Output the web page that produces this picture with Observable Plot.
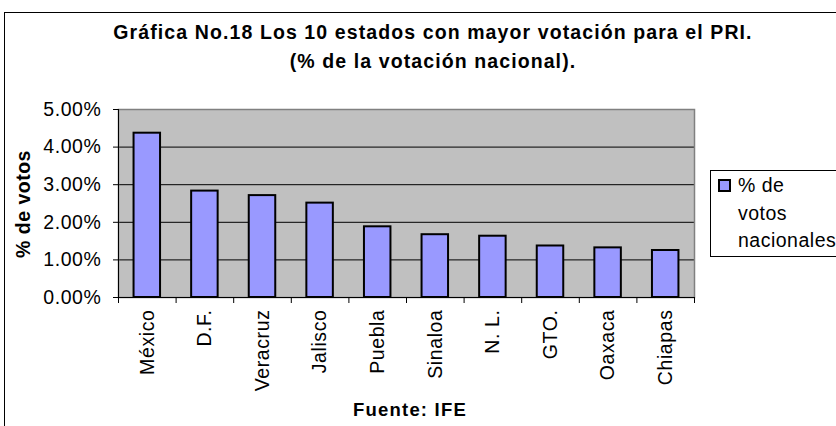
<!DOCTYPE html>
<html>
<head>
<meta charset="utf-8">
<script src="https://cdn.jsdelivr.net/npm/d3@7"></script>
<script src="https://cdn.jsdelivr.net/npm/@observablehq/plot@0.6"></script>
<style>
  body { margin: 0; background: #fff; }
  #wrap { position: relative; width: 836px; height: 426px; overflow: hidden;
          font-family: "Liberation Sans", Arial, sans-serif; color: #000; background: #fff; }
  #wrap svg text { letter-spacing: 0.6px; }
  #border { position: absolute; left: 4px; top: 12px; width: 900px; height: 500px;
            border: 1px solid #000; box-sizing: border-box; }
  .t { position: absolute; white-space: nowrap; line-height: 1; }
  #title1, #title2 { left: 0; width: 866px; text-align: center; font-weight: bold;
                     font-size: 19.5px; letter-spacing: 1.1px; }
  #title1 { top: 23px; }
  #title2 { top: 52px; }
  #caption { left: 310px; width: 200px; text-align: center; top: 401px; font-weight: bold;
             font-size: 18.5px; letter-spacing: 1.2px; }
  #ylabel { left: 24px; top: 204px; font-weight: bold; font-size: 19.5px; letter-spacing: 0.5px;
            transform: translate(-50%, -50%) rotate(-90deg); }
  #legend { position: absolute; left: 710px; top: 170px; width: 140px; height: 87px;
            border: 1px solid #000; box-sizing: border-box; background: #fff; }
  #legend .sw { position: absolute; left: 7px; top: 8px; width: 13px; height: 13px;
                background: #9999FF; border: 2px solid #000; box-sizing: border-box; }
  #legend .lt { position: absolute; left: 27px; font-size: 19.5px; line-height: 1; letter-spacing: 0.5px; white-space: nowrap; }
</style>
</head>
<body>
<div id="wrap">
  <div id="chart"></div>
  <div id="border"></div>
  <div class="t" id="title1"></div>
  <div class="t" id="title2"></div>
  <div class="t" id="ylabel"></div>
  <div class="t" id="caption"></div>
  <div id="legend"><div class="sw"></div></div>
</div>
<script>
const titleLines = ["Gráfica No.18 Los 10 estados con mayor votación para el PRI.", "(% de la votación nacional)."];
const yLabel = "% de votos";
const caption = "Fuente: IFE";
const seriesLines = ["% de", "votos", "nacionales"];
const states = ["México", "D.F.", "Veracruz", "Jalisco", "Puebla", "Sinaloa", "N. L.", "GTO.", "Oaxaca", "Chiapas"];
const votes = [4.37, 2.83, 2.71, 2.51, 1.88, 1.67, 1.63, 1.37, 1.32, 1.25];
const yTicks = [0, 1, 2, 3, 4, 5];

const data = states.map((s, i) => ({ state: s, i, v: votes[i] }));
const half = 0.23;

const chart = Plot.plot({
  width: 836, height: 426,
  marginLeft: 118, marginRight: 142, marginTop: 109, marginBottom: 129,
  style: { fontFamily: '"Liberation Sans", Arial, sans-serif', fontSize: "19.5px", color: "#000", background: "transparent", overflow: "visible" },
  x: { type: "linear", domain: [0, states.length] },
  y: { domain: [0, 5] },
  marks: [
    Plot.frame({ fill: "#C0C0C0" }),
    Plot.ruleY(yTicks.slice(1, -1), { stroke: "#000", strokeWidth: 1 }),
    Plot.frame({ stroke: "#808080", strokeWidth: 1.5 }),
    Plot.rectY(data, { x1: d => d.i + 0.5 - half, x2: d => d.i + 0.5 + half, y: "v",
                       fill: "#9999FF", stroke: "#000", strokeWidth: 2 }),
    Plot.ruleX([0], { stroke: "#000", strokeWidth: 1 }),
    Plot.ruleY([0], { stroke: "#000", strokeWidth: 1 }),
    Plot.axisY({ ticks: yTicks, tickFormat: d => d.toFixed(2) + "%", tickSize: 5, tickPadding: 12,
                 label: null, fontSize: 19.5, stroke: "#000" }),
    Plot.axisX({ ticks: d3.range(0, states.length + 1), tickSize: 6, tickFormat: () => "",
                 label: null, stroke: "#000" }),
    Plot.text(data, { x: d => d.i + 0.5, y: 0, text: "state", rotate: -90, textAnchor: "end",
                      lineAnchor: "middle", dy: 12, fontSize: 19.5, fill: "#000" })
  ]
});
document.getElementById("chart").appendChild(chart);

document.getElementById("title1").textContent = titleLines[0];
document.getElementById("title2").textContent = titleLines[1];
document.getElementById("ylabel").textContent = yLabel;
document.getElementById("caption").textContent = caption;
const legend = document.getElementById("legend");
seriesLines.forEach((s, k) => {
  const el = document.createElement("div");
  el.className = "lt";
  el.style.top = (5 + k * 27.5) + "px";
  el.textContent = s;
  legend.appendChild(el);
});
</script>
</body>
</html>
